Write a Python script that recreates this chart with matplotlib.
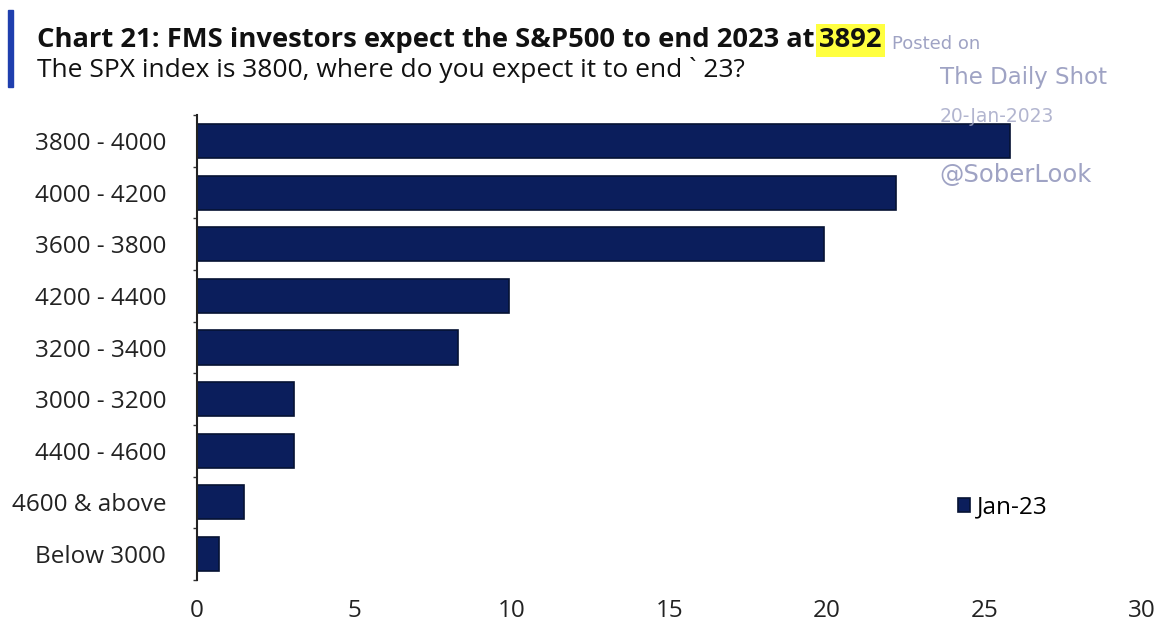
import matplotlib
matplotlib.use('Agg')
import matplotlib.pyplot as plt
from matplotlib.font_manager import fontManager
from matplotlib.patches import Rectangle

# data
categories = ['3800 - 4000', '4000 - 4200', '3600 - 3800', '4200 - 4400',
              '3200 - 3400', '3000 - 3200', '4400 - 4600', '4600 & above',
              'Below 3000']
jan23 = [25.8, 22.2, 19.9, 9.9, 8.3, 3.1, 3.1, 1.5, 0.7]
xticks = [0, 5, 10, 15, 20, 25, 30]
series_name = 'Jan-23'

title_main = 'Chart 21: FMS investors expect the S&P500 to end 2023 at'
title_hl = '3892'
subtitle = 'The SPX index is 3800, where do you expect it to end ` 23?'
watermark = ['Posted on', 'The Daily Shot', '20-Jan-2023', '@SoberLook']

names = {f.name for f in fontManager.ttflist}
narrow = 'Liberation Sans Narrow' if 'Liberation Sans Narrow' in names else 'Open Sans'

navy = '#0b1e5c'
edge = '#061233'
wm_col = '#9fa3c4'

fig = plt.figure(figsize=(11.7, 6.33), dpi=100)
ax = fig.add_axes([0.168, 0.084, 0.808, 0.734])

ypos = range(len(categories))
ax.barh(ypos, jan23, height=0.66, color=navy, edgecolor=edge, linewidth=1.2,
        label=series_name)
ax.set_ylim(len(categories) - 0.5, -0.5)
ax.set_xlim(0, 30)
ax.set_xticks(xticks)
ax.set_yticks(list(ypos))
ax.set_yticklabels(categories, family=narrow, fontsize=17.5, color='#222222')
ax.set_xticklabels([str(t) for t in xticks], family=narrow, fontsize=17.5,
                   color='#222222')
ax.tick_params(axis='x', length=0, pad=14)
ax.tick_params(axis='y', length=0, pad=22)
ax.set_yticks([i + 0.5 for i in range(-1, len(categories))], minor=True)
ax.tick_params(axis='y', which='minor', length=3, width=1.0, color='#333333')
for s in ['top', 'right', 'bottom']:
    ax.spines[s].set_visible(False)
ax.spines['left'].set_linewidth(1.5)
ax.spines['left'].set_color('#222222')

leg = ax.legend(loc='center left', bbox_to_anchor=(0.782, 0.155), frameon=False,
                handlelength=0.5, handleheight=0.5, handletextpad=0.3,
                prop={'family': narrow, 'size': 17.5})

# left accent bar
fig.patches.append(Rectangle((0.007, 0.862), 0.0045, 0.122,
                             transform=fig.transFigure, color='#1f3fae'))

t1 = fig.text(0.032, 0.925, title_main, family=narrow, weight='bold',
              fontsize=19.7, color='#111111', va='baseline')
fig.canvas.draw()
bb = t1.get_window_extent()
x_hl = (bb.x1 + 4) / fig.bbox.width
fig.text(x_hl, 0.925, title_hl, family=narrow, weight='bold', fontsize=19.7,
         color='#111111', va='baseline',
         bbox=dict(boxstyle='square,pad=0.12', facecolor='#ffff40',
                   edgecolor='none'))
fig.text(0.032, 0.878, subtitle, family=narrow, fontsize=19,
         color='#111111', va='baseline')

# watermark
fig.text(0.762, 0.922, watermark[0], fontsize=13, color=wm_col, va='baseline')
fig.text(0.803, 0.868, watermark[1], fontsize=16.5, color=wm_col, va='baseline')
fig.text(0.803, 0.808, watermark[2], fontsize=13.5, color=wm_col, va='baseline',
         alpha=0.8)
fig.text(0.803, 0.712, watermark[3], fontsize=17.5, color=wm_col, va='baseline')

fig.savefig('out.png', dpi=100)
